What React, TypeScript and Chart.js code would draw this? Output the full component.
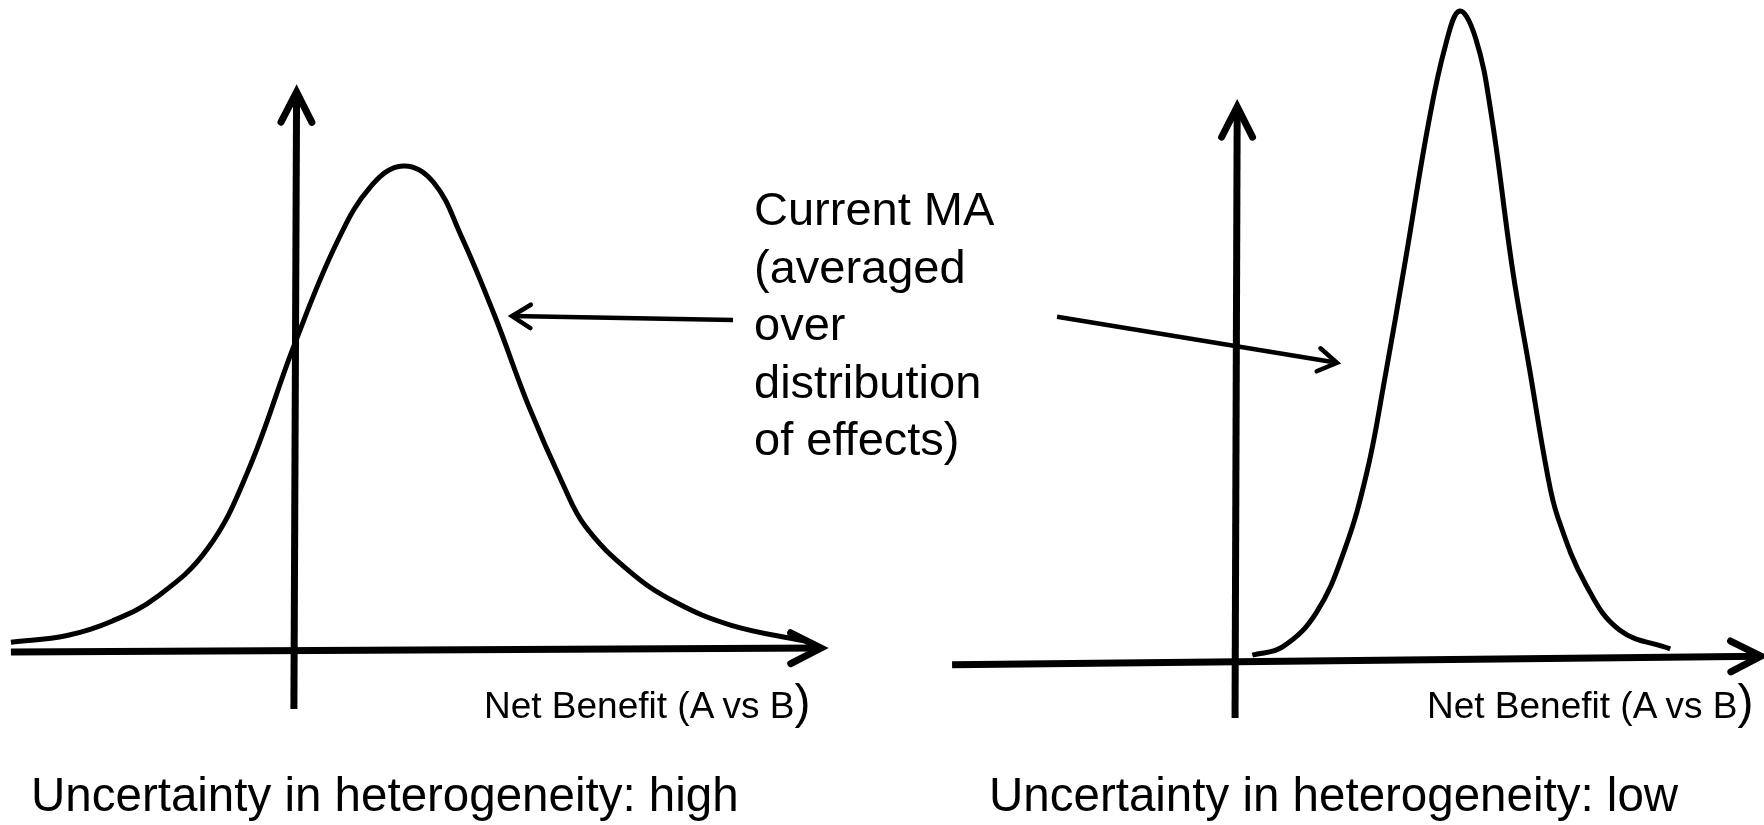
import React, { useEffect, useRef } from "react";
import { Chart, registerables } from "chart.js";

Chart.register(...registerables);

// ---------- data (value space: x = net benefit, y = density) ----------
// Left panel: uncertainty in heterogeneity high -> wide distribution
const leftCurveX = [-2.63, -2.11, -1.69, -1.27, -0.81, -0.44, 0.0, 0.39, 0.71, 1.0, 1.28, 1.54, 1.85, 2.16, 2.48, 2.69, 3.1, 3.52, 4.04, 4.71];
const leftCurveY = [0.016, 0.03, 0.06, 0.111, 0.209, 0.367, 0.634, 0.843, 0.96, 1.0, 0.967, 0.855, 0.69, 0.506, 0.343, 0.255, 0.162, 0.099, 0.051, 0.019];

// Right panel: uncertainty in heterogeneity low -> narrow, tall distribution
const rightCurveX = [0.16, 0.44, 0.75, 1.01, 1.22, 1.38, 1.58, 1.79, 1.95, 2.08, 2.23, 2.37, 2.57, 2.73, 2.89, 2.99, 3.25, 3.56, 4.03];
const rightCurveY = [0.01, 0.027, 0.097, 0.225, 0.387, 0.573, 0.829, 1.107, 1.271, 1.341, 1.283, 1.131, 0.806, 0.597, 0.387, 0.294, 0.155, 0.062, 0.023];

// Axes (start -> end, arrow at end)
const leftXAxisX = [-2.63, 4.87];
const leftXAxisY = [-0.004, 0.004];
const leftYAxisX = [-0.01, 0.015];
const leftYAxisY = [-0.122, 1.153];
const rightXAxisX = [-2.62, 4.87];
const rightXAxisY = [-0.01, 0.008];
const rightYAxisX = [0.0, 0.02];
const rightYAxisY = [-0.12, 1.143];

// Pointer arrows from the annotation to each curve
const leftPointerX = [4.056, 2.009];
const leftPointerY = [0.682, 0.69];
const rightPointerX = [-1.648, 0.944];
const rightPointerY = [0.709, 0.614];

// Text
const annotationLines = ["Current MA", "(averaged", "over", "distribution", "of effects)"];
const axisLabel = "Net Benefit (A vs B";
const axisLabelClose = ")";
const leftCaption = "Uncertainty in heterogeneity: high";
const rightCaption = "Uncertainty in heterogeneity: low";

// ---------- helpers ----------
const pts = (xs: number[], ys: number[]) => xs.map((x, i) => ({ x, y: ys[i] }));

const arrowPlugin = {
  id: "arrowHeads",
  afterDatasetsDraw(chart: any) {
    const ctx = chart.ctx;
    chart.data.datasets.forEach((ds: any, i: number) => {
      const head = ds.arrowHead;
      if (!head) return;
      const meta = chart.getDatasetMeta(i);
      const p = meta.data;
      const n = p.length;
      if (n < 2) return;
      const tip = p[n - 1];
      const prev = p[n - 2];
      const ang = Math.atan2(tip.y - prev.y, tip.x - prev.x);
      ctx.save();
      ctx.strokeStyle = "#000";
      ctx.lineWidth = head.width;
      ctx.lineCap = "round";
      ctx.lineJoin = "miter";
      ctx.beginPath();
      ctx.moveTo(tip.x - head.len * Math.cos(ang - head.spread), tip.y - head.len * Math.sin(ang - head.spread));
      ctx.lineTo(tip.x, tip.y);
      ctx.lineTo(tip.x - head.len * Math.cos(ang + head.spread), tip.y - head.len * Math.sin(ang + head.spread));
      ctx.stroke();
      ctx.restore();
    });
  },
};

const curveDs = (xs: number[], ys: number[]) => ({
  data: pts(xs, ys),
  borderColor: "#000",
  borderWidth: 5,
  pointRadius: 0,
  tension: 0.4,
  fill: false,
  clip: false,
});

const lineDs = (xs: number[], ys: number[], width: number, head: any) => ({
  data: pts(xs, ys),
  borderColor: "#000",
  borderWidth: width,
  pointRadius: 0,
  tension: 0,
  fill: false,
  clip: false,
  arrowHead: head,
});

const axisHead = { len: 34, spread: (27 * Math.PI) / 180, width: 7 };
const pointerHead = { len: 22, spread: (32 * Math.PI) / 180, width: 4.5 };

type PanelProps = {
  left: number;
  datasets: any[];
  xMin: number;
  xMax: number;
  yMin: number;
  yMax: number;
};

function Panel({ left, datasets, xMin, xMax, yMin, yMax }: PanelProps) {
  const ref = useRef<HTMLCanvasElement | null>(null);
  useEffect(() => {
    if (!ref.current) return;
    const chart = new Chart(ref.current, {
      type: "line",
      data: { datasets },
      options: {
        animation: false,
        responsive: false,
        devicePixelRatio: 1,
        layout: { padding: 0 },
        plugins: { legend: { display: false }, tooltip: { enabled: false } },
        scales: {
          x: { type: "linear", min: xMin, max: xMax, display: false },
          y: { type: "linear", min: yMin, max: yMax, display: false },
        },
      } as any,
      plugins: [arrowPlugin],
    });
    return () => chart.destroy();
  }, []);
  return (
    <canvas
      ref={ref}
      width={882}
      height={825}
      style={{ position: "absolute", left, top: 0, width: 882, height: 825 }}
    />
  );
}

const font = "'Liberation Sans', Arial, Helvetica, sans-serif";

export default function App() {
  const leftSets = [
    lineDs(leftXAxisX, leftXAxisY, 7, axisHead),
    lineDs(leftYAxisX, leftYAxisY, 7, axisHead),
    curveDs(leftCurveX, leftCurveY),
    lineDs(leftPointerX, leftPointerY, 4.5, pointerHead),
  ];
  const rightSets = [
    lineDs(rightXAxisX, rightXAxisY, 7, axisHead),
    lineDs(rightYAxisX, rightYAxisY, 7, axisHead),
    curveDs(rightCurveX, rightCurveY),
    lineDs(rightPointerX, rightPointerY, 4.5, pointerHead),
  ];
  return (
    <div
      style={{
        position: "fixed",
        left: 0,
        top: 0,
        width: 1764,
        height: 825,
        background: "#fff",
        overflow: "hidden",
        fontFamily: font,
        color: "#000",
      }}
    >
      <Panel left={0} datasets={leftSets} xMin={-2.731} xMax={5.435} yMin={-0.3616} yMax={1.343} />
      <Panel left={882} datasets={rightSets} xMin={-3.269} xMax={4.898} yMin={-0.3409} yMax={1.3636} />

      <div style={{ position: "absolute", left: 754, top: 180, fontSize: 47, lineHeight: "57.5px", whiteSpace: "nowrap" }}>
        {annotationLines.map((l, i) => (
          <div key={i}>{l}</div>
        ))}
      </div>

      <div style={{ position: "absolute", left: 484, top: 687, fontSize: 37, lineHeight: "37px", whiteSpace: "nowrap" }}>
        {axisLabel}
        <span style={{ fontSize: 48, lineHeight: 0 }}>{axisLabelClose}</span>
      </div>
      <div style={{ position: "absolute", left: 1427, top: 687, fontSize: 37, lineHeight: "37px", whiteSpace: "nowrap" }}>
        {axisLabel}
        <span style={{ fontSize: 48, lineHeight: 0 }}>{axisLabelClose}</span>
      </div>

      <div style={{ position: "absolute", left: 31, top: 771, fontSize: 47.5, lineHeight: "48px", whiteSpace: "nowrap" }}>
        {leftCaption}
      </div>
      <div style={{ position: "absolute", left: 989, top: 771, fontSize: 47.5, lineHeight: "48px", whiteSpace: "nowrap" }}>
        {rightCaption}
      </div>
    </div>
  );
}
